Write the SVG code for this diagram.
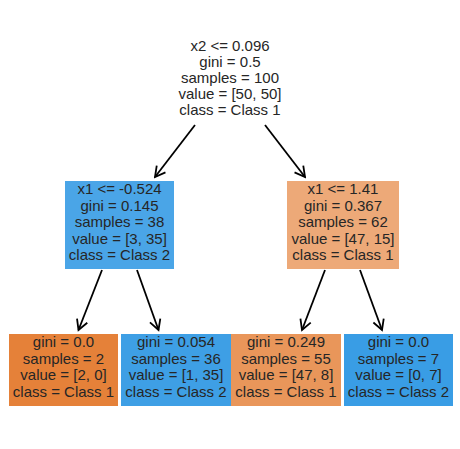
<svg xmlns="http://www.w3.org/2000/svg" width="460" height="449" viewBox="0 0 460 449">
<defs>
<style>
text{font-family:"Liberation Sans",Arial,sans-serif;font-size:15px;fill:#262626;text-anchor:middle}
.edge{stroke:#000;stroke-width:1.8;fill:none}
</style>
<marker id="ah" markerUnits="userSpaceOnUse" markerWidth="14" markerHeight="14" viewBox="-12 -7 14 14" refX="0" refY="0" orient="auto">
<path d="M -10 -5.5 L 0 0 L -10 5.5" fill="none" stroke="#000" stroke-width="1.8"/>
</marker>
</defs>
<rect width="460" height="449" fill="#fff"/>
<g id="connectors">
<line class="edge" x1="195" y1="125" x2="155" y2="177" marker-end="url(#ah)"/>
<line class="edge" x1="265" y1="125" x2="305" y2="177" marker-end="url(#ah)"/>
<line class="edge" x1="102" y1="270" x2="78.5" y2="330" marker-end="url(#ah)"/>
<line class="edge" x1="137" y1="270" x2="158.5" y2="330" marker-end="url(#ah)"/>
<line class="edge" x1="325" y1="270" x2="302" y2="330" marker-end="url(#ah)"/>
<line class="edge" x1="360" y1="270" x2="382" y2="330" marker-end="url(#ah)"/>
</g>
<g id="root">
<text x="230" y="51">x2 &lt;= 0.096</text>
<text x="230" y="67">gini = 0.5</text>
<text x="230" y="83">samples = 100</text>
<text x="230" y="99">value = [50, 50]</text>
<text x="230" y="115">class = Class 1</text>
</g>
<g id="left">
<rect x="65" y="181" width="109" height="88" fill="#4aa5e7"/>
<text x="119.5" y="194">x1 &lt;= -0.524</text>
<text x="119.5" y="210.5">gini = 0.145</text>
<text x="119.5" y="227">samples = 38</text>
<text x="119.5" y="243.5">value = [3, 35]</text>
<text x="119.5" y="260">class = Class 2</text>
</g>
<g id="right">
<rect x="287" y="181" width="112" height="88" fill="#eda978"/>
<text x="343" y="194">x1 &lt;= 1.41</text>
<text x="343" y="210.5">gini = 0.367</text>
<text x="343" y="227">samples = 62</text>
<text x="343" y="243.5">value = [47, 15]</text>
<text x="343" y="260">class = Class 1</text>
</g>
<g id="leaf1">
<rect x="9" y="334" width="109" height="72" fill="#e58139"/>
<text x="63.5" y="347">gini = 0.0</text>
<text x="63.5" y="363.5">samples = 2</text>
<text x="63.5" y="380">value = [2, 0]</text>
<text x="63.5" y="396.5">class = Class 1</text>
</g>
<g id="leaf2">
<rect x="121" y="334" width="110" height="72" fill="#3e9fe5"/>
<text x="176" y="347">gini = 0.054</text>
<text x="176" y="363.5">samples = 36</text>
<text x="176" y="380">value = [1, 35]</text>
<text x="176" y="396.5">class = Class 2</text>
</g>
<g id="leaf3">
<rect x="231" y="334" width="110" height="72" fill="#e9965a"/>
<text x="286" y="347">gini = 0.249</text>
<text x="286" y="363.5">samples = 55</text>
<text x="286" y="380">value = [47, 8]</text>
<text x="286" y="396.5">class = Class 1</text>
</g>
<g id="leaf4">
<rect x="344" y="334" width="109" height="72" fill="#399de5"/>
<text x="398.5" y="347">gini = 0.0</text>
<text x="398.5" y="363.5">samples = 7</text>
<text x="398.5" y="380">value = [0, 7]</text>
<text x="398.5" y="396.5">class = Class 2</text>
</g>
</svg>
